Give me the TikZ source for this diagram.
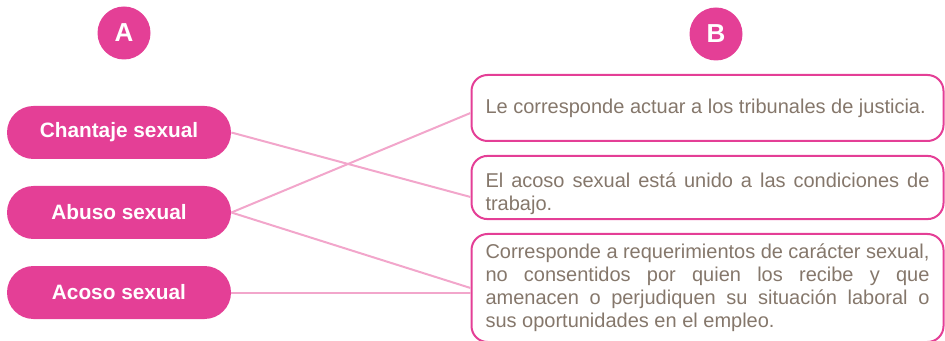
\documentclass[tikz,border=0pt]{standalone}
\usepackage{fontspec}
\setmainfont{Liberation Sans}
\usetikzlibrary{positioning}
\definecolor{rosa}{HTML}{E43F96}
\definecolor{rosaclaro}{HTML}{F2A6CB}
\definecolor{texto}{HTML}{85776B}
\tikzset{
  letra/.style={circle, fill=rosa, text=white, minimum size=26.5pt, inner sep=0pt, font=\fontsize{13}{13}\selectfont\bfseries},
  concepto/.style={fill=rosa, text=white, rounded corners=13.25pt, minimum width=112pt, minimum height=26.5pt, inner sep=0pt, font=\fontsize{10.4}{12}\selectfont\bfseries},
  definicion/.style={draw=rosa, line width=1pt, rounded corners=8pt, text=texto, text width=222pt, align=justify, inner xsep=7pt, inner ysep=2pt, font=\fontsize{10}{11.5}\selectfont},
  union/.style={rosaclaro, line width=1pt}
}
\begin{document}
\begin{tikzpicture}[x=0.5pt,y=-0.5pt]
\useasboundingbox (0,0) rectangle (945,341);
% columnas
\node[letra] (A) at (124,33) {A};
\node[letra] (B) at (716,34) {B};
% conceptos
\node[concepto] (chantaje) at (119,132.5) {Chantaje sexual};
\node[concepto] (abuso) at (119,212.5) {Abuso sexual};
\node[concepto] (acoso) at (119,292.5) {Acoso sexual};
% definiciones
\node[definicion, minimum height=33pt] (def1) at (707.5,108) {Le corresponde actuar a los tribunales de justicia.};
\node[definicion, minimum height=31.5pt] (def2) at (707.5,187.5) {\rule{0pt}{14pt}El acoso sexual est\'a unido a las condiciones de\linebreak trabajo.};
\node[definicion, minimum height=54pt] (def3) at (707.5,288) {Corresponde a requerimientos de car\'acter sexual,\linebreak no consentidos por quien los recibe y que\linebreak amenacen o perjudiquen su situaci\'on laboral o\linebreak sus oportunidades en el empleo.};
\coordinate (e1) at ([yshift=-2.5pt]def1.west);
\coordinate (e2) at ([yshift=-4.75pt]def2.west);
% uniones
\draw[union] (chantaje.east) -- (e2);
\draw[union] (abuso.east) -- (e1);
\draw[union] (abuso.east) -- (def3.west);
\draw[union] (acoso.east) -- (acoso.east -| def3.west);
\end{tikzpicture}
\end{document}
